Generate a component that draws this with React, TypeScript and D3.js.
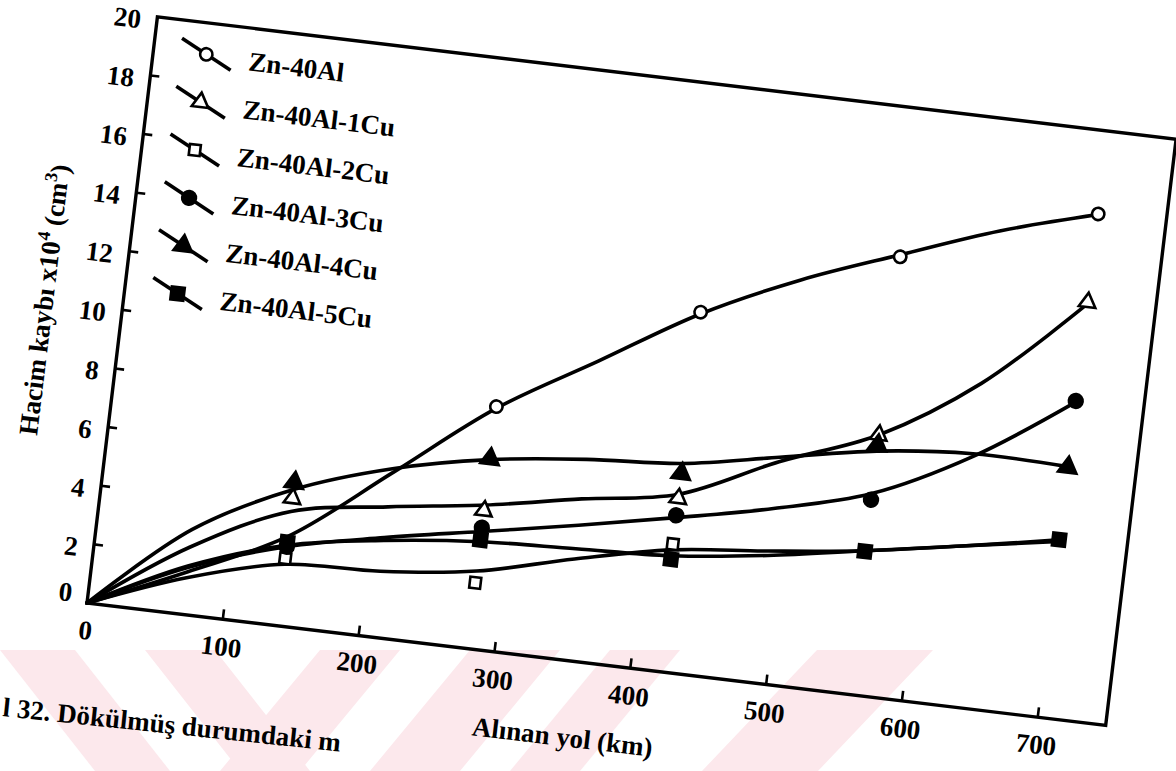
import React from 'react';
import * as d3 from 'd3';

// ---- data ----
const curveKm = [0, 70, 140, 210, 280, 350, 420, 490, 560, 630, 700];
const markerKm = [140, 280, 420, 560, 700];

const seriesNames = ['Zn-40Al', 'Zn-40Al-1Cu', 'Zn-40Al-2Cu', 'Zn-40Al-3Cu', 'Zn-40Al-4Cu', 'Zn-40Al-5Cu'];

// fitted curves (as drawn)
const zn40AlCurve = [0, 1.45, 3.05, 5.6, 8.2, 10.2, 12.2, 13.75, 15.0, 16.2, 17.15];
const zn1CuCurve = [0, 2.3, 3.9, 4.45, 4.9, 5.5, 6.05, 7.55, 8.85, 11.0, 14.1];
const zn2CuCurve = [0, 1.25, 2.1, 2.25, 2.65, 3.45, 4.15, 4.5, 4.9, 5.45, 6.0];
const zn3CuCurve = [0, 1.6, 2.7, 3.4, 4.0, 4.6, 5.25, 5.95, 6.85, 8.5, 10.75];
const zn4CuCurve = [0, 2.9, 4.65, 5.75, 6.45, 6.85, 7.1, 7.7, 8.3, 8.6, 8.55];
const zn5CuCurve = [0, 1.65, 2.75, 3.3, 3.65, 3.8, 3.95, 4.35, 4.9, 5.45, 6.05];

// measured points
const zn40AlPoints = [null, 8.26, 12.26, 14.93, 17.17];
const zn1CuPoints = [4.35, 4.71, 5.91, 8.85, 14.16];
const zn2CuPoints = [2.3, 2.25, 4.35, 4.88, 6.06];
const zn3CuPoints = [2.7, 4.13, 5.33, 6.64, 10.79];
const zn4CuPoints = [4.89, 6.48, 6.76, 8.51, 8.53];
const zn5CuPoints = [2.85, 3.71, 3.83, 4.88, 6.06];

const xTicks = [0, 100, 200, 300, 400, 500, 600, 700];
const yTicks = [0, 2, 4, 6, 8, 10, 12, 14, 16, 18, 20];

const xTitle = 'Alınan yol (km)';
const captionText = 'l 32. Dökülmüş durumdaki m';

// ---- layout ----
const W = 1176;
const H = 771;
const ORIGIN_X = 87;
const ORIGIN_Y = 603;
const ANGLE = 6.85;
const FONT = "'Liberation Serif', 'Times New Roman', serif";

const x = d3.scaleLinear().domain([0, 750]).range([0, 1026]);
const y = d3.scaleLinear().domain([0, 20]).range([0, -590.4]);

const series = [
  { name: seriesNames[0], curve: zn40AlCurve, points: zn40AlPoints, symbol: d3.symbolCircle, size: 120, fill: '#fff' },
  { name: seriesNames[1], curve: zn1CuCurve, points: zn1CuPoints, symbol: d3.symbolTriangle, size: 120, fill: '#fff' },
  { name: seriesNames[2], curve: zn2CuCurve, points: zn2CuPoints, symbol: d3.symbolSquare, size: 120, fill: '#fff' },
  { name: seriesNames[3], curve: zn3CuCurve, points: zn3CuPoints, symbol: d3.symbolCircle, size: 150, fill: '#000' },
  { name: seriesNames[4], curve: zn4CuCurve, points: zn4CuPoints, symbol: d3.symbolTriangle, size: 150, fill: '#000' },
  { name: seriesNames[5], curve: zn5CuCurve, points: zn5CuPoints, symbol: d3.symbolSquare, size: 170, fill: '#000' },
];

const lineGen = d3
  .line<[number, number]>()
  .x((d) => x(d[0]))
  .y((d) => y(d[1]))
  .curve(d3.curveCatmullRom.alpha(0.5));

// watermark bands (decoration)
const WM_TOP = 650;
const WM_BOT = 771;
const wmBands: { x0: number; x1: number; shift: number }[] = [
  { x0: 0, x1: 75, shift: 95 },
  { x0: 145, x1: 215, shift: 95 },
  { x0: 320, x1: 400, shift: -100 },
  { x0: 470, x1: 560, shift: -100 },
  { x0: 610, x1: 680, shift: -100 },
  { x0: 817, x1: 933, shift: -115 },
];

export default function App() {
  return (
    <svg
      width={W}
      height={H}
      viewBox={`0 0 ${W} ${H}`}
      style={{ position: 'absolute', left: 0, top: 0, background: '#fff' }}
      fontFamily={FONT}
      fontWeight="bold"
    >
      <rect x={0} y={0} width={W} height={H} fill="#fff" />
      {/* watermark */}
      <g fill="#fce8ec">
        {wmBands.map((b, i) => (
          <polygon
            key={i}
            points={`${b.x0},${WM_TOP} ${b.x1},${WM_TOP} ${b.x1 + b.shift},${WM_BOT} ${b.x0 + b.shift},${WM_BOT}`}
          />
        ))}
      </g>

      <g transform={`translate(${ORIGIN_X},${ORIGIN_Y}) rotate(${ANGLE})`}>
        {/* frame */}
        <path
          d={`M${x(0)},${y(0)} H${x(750)} V${y(20)} H${x(0)} Z`}
          fill="none"
          stroke="#000"
          strokeWidth={3.4}
          strokeLinejoin="miter"
        />
        {/* y ticks */}
        {yTicks.map((t) => (
          <g key={'y' + t}>
            {t > 0 && t < 20 && (
              <line x1={0} x2={9} y1={y(t)} y2={y(t)} stroke="#000" strokeWidth={2.6} />
            )}
            <text
              x={-16}
              y={t === 0 ? -9 : y(t) + 4}
              dy="0.35em"
              textAnchor="end"
              fontSize={27}
              fill="#000"
            >
              {t}
            </text>
          </g>
        ))}
        {/* x ticks */}
        {xTicks.map((t) => (
          <g key={'x' + t}>
            {t > 0 && <line x1={x(t)} x2={x(t)} y1={0} y2={-10} stroke="#000" strokeWidth={2.6} />}
            <text x={x(t) + 1.5} y={27} dy="0.35em" textAnchor="middle" fontSize={27} fill="#000">
              {t}
            </text>
          </g>
        ))}
        {/* axis titles */}
        <text x={488} y={76} dy="0.35em" textAnchor="middle" fontSize={27} fill="#000">
          {xTitle}
        </text>
        <g transform="translate(-79,-296) rotate(-90)">
          <text x={0} y={0} dy="0.35em" textAnchor="middle" fontSize={27} fill="#000">
            Hacim kaybı x10
            <tspan fontSize={18} dy={-11}>4</tspan>
            <tspan dy={11}> (cm</tspan>
            <tspan fontSize={18} dy={-11}>3</tspan>
            <tspan dy={11}>)</tspan>
          </text>
        </g>

        {/* curves */}
        {series.map((s) => (
          <path
            key={'c' + s.name}
            d={lineGen(curveKm.map((k, i) => [k, s.curve[i]] as [number, number])) || ''}
            fill="none"
            stroke="#000"
            strokeWidth={3.6}
            strokeLinecap="round"
          />
        ))}
        {/* markers */}
        {series.map((s) => (
          <g key={'m' + s.name}>
            {s.points.map((v, i) =>
              v == null ? null : (
                <path
                  key={i}
                  transform={`translate(${x(markerKm[i])},${y(v)})`}
                  d={d3.symbol().type(s.symbol).size(s.size)() || ''}
                  fill={s.fill}
                  stroke="#000"
                  strokeWidth={2.6}
                />
              )
            )}
          </g>
        ))}

        {/* legend */}
        {series.map((s, i) => {
          const cy = -559 + 48.2 * i;
          const cx = 53;
          return (
            <g key={'l' + s.name}>
              <line x1={cx - 26} y1={cy - 13} x2={cx + 26} y2={cy + 13} stroke="#000" strokeWidth={3.6} />
              <path
                transform={`translate(${cx},${cy})`}
                d={d3.symbol().type(s.symbol).size(s.size)() || ''}
                fill={s.fill}
                stroke="#000"
                strokeWidth={2.6}
              />
              <text x={96} y={cy + 11} fontSize={27} fill="#000">
                {s.name}
              </text>
            </g>
          );
        })}
      </g>

      {/* caption fragment */}
      <text x={2} y={716} transform="rotate(6, 2, 716)" fontSize={27} fill="#000">
        {captionText}
      </text>
    </svg>
  );
}
